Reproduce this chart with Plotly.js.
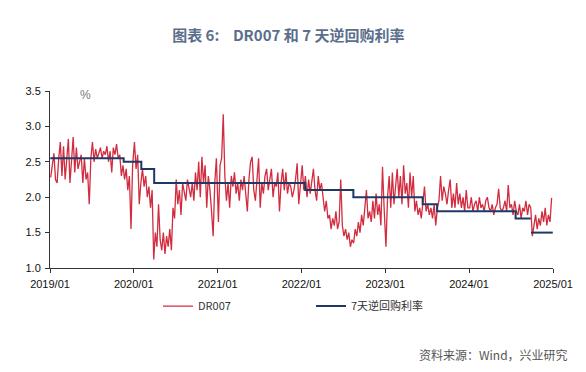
<!DOCTYPE html>
<html>
<head>
<meta charset="utf-8">
<script src="https://cdn.plot.ly/plotly-3.0.1.min.js"></script>
<style>html,body{margin:0;padding:0;background:#fff;}#chart{width:586px;height:372px;}</style>
</head>
<body>
<div id="chart"></div>
<script>
// DR007 weekly readings, one array per year
var dr2019 = [2.28,2.5,2.62,2.25,2.2,2.55,2.78,2.3,2.72,2.25,2.5,2.82,2.2,2.6,2.85,2.35,2.7,2.4,2.5,2.6,2.2,2.55,2.25,2.35,1.9,2.55,2.78,2.5,2.68,2.55,2.62,2.7,2.55,2.65,2.6,2.72,2.5,2.65,2.35,2.7,2.6,2.75,2.55,2.6,2.3,2.45,2.25,2.4,2.1,2.3,1.55,2.45];
var dr2020 = [2.78,2.4,2.6,1.9, 2.2,2.4,2.15,2.3, 2.0,2.15,1.85,2.1,1.12, 1.5,1.3,1.9,1.4, 1.25,1.5,1.2,1.45, 1.3,1.55,1.25,1.85,1.7, 2.25,1.9,2.1,1.75, 2.2,2.05,1.95,2.25,2.1, 2.0,2.2,1.95,2.35, 2.1,2.5,2.0,2.57, 2.2,2.45,1.85,2.3,2.1, 1.8,1.45,2.2,2.55];
var dr2021 = [1.65,2.45,2.55,3.17, 2.3,1.95,2.2,1.85, 2.3,2.15,2.35,2.05,2.2, 1.95,2.25,2.1,2.3, 2.0,1.8,2.25,2.5,2.57, 2.1,1.95,2.2,2.55, 1.85,2.2,2.05,2.3, 2.4,2.1,2.25,2.4,2.0, 2.2,2.15,2.35,1.8, 2.2,2.4,2.1,2.35, 2.05,2.2,2.15,2.0,2.1, 2.25,2.48,1.9,2.2];
var dr2022 = [2.45,2.1,2.3,2.0, 2.25,2.05,2.2,2.4, 2.1,1.95,2.3,2.1,2.2, 2.0,1.8,1.95,1.7, 1.75,1.55,1.7,1.6, 1.8,1.55,1.65,2.25, 1.6,1.45,1.55,1.4, 1.5,1.3,1.4,1.35,1.55, 1.45,1.65,1.5,1.75, 1.6,1.85,2.1,1.7, 1.8,1.65,1.95,1.7,2.05, 1.75,1.9,1.6,2.43,1.85];
var dr2023 = [1.3,2.0,2.3,1.85, 2.35,1.9,2.2,2.4, 2.0,2.3,1.9,2.45,2.05, 2.2,1.85,2.35,2.0, 2.3,1.8,1.95,1.75, 1.85,1.7,1.9,2.15, 1.8,1.9,1.75,1.85, 1.7,1.9,1.6,1.85,1.95, 2.3,1.95,2.15,2.05, 1.9,2.1,2.25,1.85, 2.05,1.85,2.2,1.9,2.05, 1.85,2.0,1.8,2.1,1.85];
var dr2024 = [1.85,2.0,1.8,1.9, 1.95,1.8,2.0,1.85, 1.9,1.8,1.95,2.0,1.85, 1.8,1.9,1.75,1.85, 1.9,2.12,1.85,1.8, 1.85,1.95,1.8,2.17, 1.85,1.9,1.75,1.95,1.8, 1.75,1.9,1.7,1.85, 1.8,1.95,1.75,1.9, 1.85,1.45,1.6,1.75,1.55, 1.7,1.6,1.8,1.65, 1.85,1.6,1.75,1.65,1.99];
var drYears = [2019,2020,2021,2022,2023,2024];

// 7-day reverse repo policy rate: change dates and levels
var repoDates = ['2019-01-02','2019-11-18','2020-02-03','2020-03-30','2022-01-17','2022-08-15','2023-06-13','2023-08-15','2024-07-22','2024-09-26','2024-09-26','2024-09-27','2024-12-31'];
var repoRate  = [2.55,2.50,2.40,2.20,2.10,2.00,1.90,1.80,1.70,1.70,null,1.50,1.50];

var xTickVals = ['2019-01-01','2020-01-01','2021-01-01','2022-01-01','2023-01-01','2024-01-01','2025-01-01'];
var xTickText = ['2019/01','2020/01','2021/01','2022/01','2023/01','2024/01','2025/01'];

var titleText = '图表 6:\u00a0\u00a0\u00a0\u00a0DR007 和 7 天逆回购利率';
var sourceText = '资料来源：Wind，兴业研究';

// build weekly dates
var drByYear = [dr2019, dr2020, dr2021, dr2022, dr2023, dr2024];
var drX = [], drY = [];
drByYear.forEach(function(arr, k){
  var y = drYears[k];
  arr.forEach(function(v, i){
    var d = new Date(Date.UTC(y,0,1) + (i*7+3)*86400000);
    drX.push(d.toISOString().slice(0,10));
    drY.push(v);
  });
});

var traces = [
  {x: drX, y: drY, type:'scatter', mode:'lines', name:'DR007',
   line:{color:'#d12c3f', width:1.3}},
  {x: repoDates, y: repoRate, type:'scatter', mode:'lines', name:'7天逆回购利率',
   line:{color:'#1f3864', width:2, shape:'hv'}, connectgaps:false}
];

var layout = {
  width:586, height:372,
  margin:{l:50, r:33, t:91, b:104},
  paper_bgcolor:'#fff', plot_bgcolor:'#fff',
  showlegend:true,
  title:{text:titleText, xref:'container', yref:'container', x:0.492, xanchor:'center', y:0.903, yanchor:'middle',
         font:{family:'Noto Sans CJK SC', size:15, color:'#5b6e8c', weight:700}},
  xaxis:{type:'date', range:['2019-01-01','2025-01-01'], tickvals:xTickVals, ticktext:xTickText,
         showgrid:false, zeroline:false, showline:true, linecolor:'#333', linewidth:1,
         ticks:'outside', ticklen:4, tickcolor:'#333', ticklabelstandoff:2,
         tickfont:{family:'Liberation Sans', size:11, color:'#111'}},
  yaxis:{range:[1.0,3.5], dtick:0.5, tick0:1.0, tickformat:'.1f',
         showgrid:false, zeroline:false, showline:true, linecolor:'#333', linewidth:1,
         ticks:'outside', ticklen:4, tickcolor:'#333', ticklabelstandoff:2,
         tickfont:{family:'Liberation Sans', size:11, color:'#111'}},
  legend:{orientation:'h', x:0.2147, xanchor:'left', y:-0.215, yanchor:'middle',
          entrywidth:108, entrywidthmode:'pixels',
          font:{family:'Noto Sans CJK SC', size:11, color:'#333'}, bgcolor:'rgba(0,0,0,0)'},
  annotations:[
    {text:'%', xref:'paper', yref:'paper', x:0.0696, y:0.977, xanchor:'center', yanchor:'middle', showarrow:false,
     font:{family:'Liberation Sans', size:12, color:'#777'}},
    {text:sourceText, xref:'paper', yref:'paper', x:1.034, y:-0.4915, xanchor:'right', yanchor:'middle', showarrow:false,
     font:{family:'Noto Sans CJK SC', size:12, color:'#555'}}
  ]
};

Plotly.newPlot('chart', traces, layout, {displayModeBar:false, staticPlot:true});
</script>
</body>
</html>
